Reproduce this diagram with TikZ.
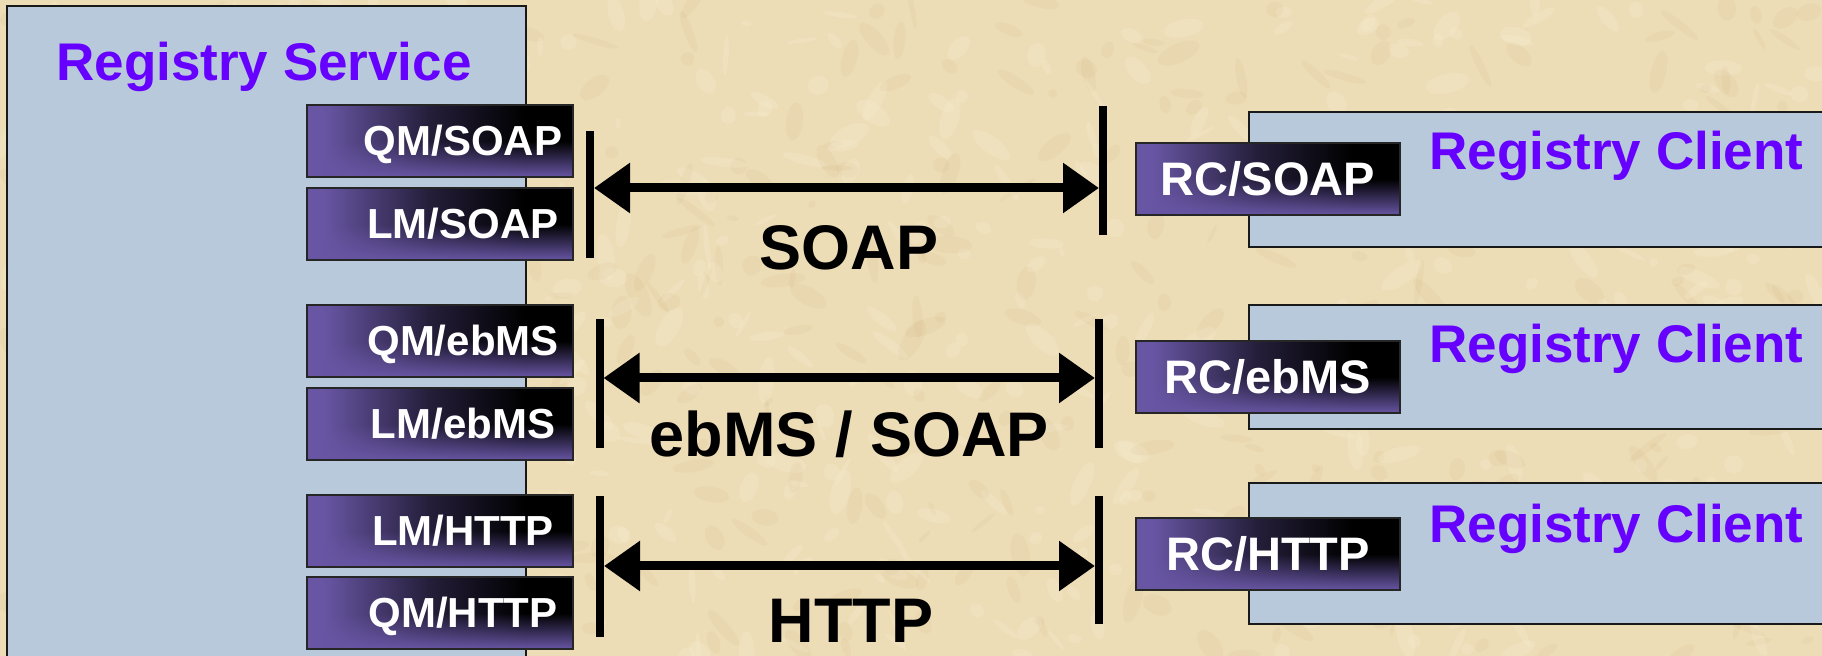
\documentclass[tikz,border=0pt]{standalone}
\usepackage{fontspec}
\setmainfont{Liberation Sans}
\usetikzlibrary{arrows.meta,fadings,calc}

\definecolor{paper}{RGB}{237,221,182}
\definecolor{paperdark}{RGB}{200,170,122}
\definecolor{paperlight}{RGB}{250,241,216}
\definecolor{panelblue}{RGB}{185,201,220}
\definecolor{titlepurple}{RGB}{102,0,255}
\definecolor{ifpurple}{RGB}{104,86,164}

% purple-to-black gradient of the module boxes
\pgfdeclarehorizontalshading{ifshade}{100bp}{%
  color(0bp)=(ifpurple); color(28bp)=(ifpurple);
  color(48bp)=(ifpurple!35!black); color(66bp)=(black); color(100bp)=(black)}
\tikzfading[name=fadeup, top color=transparent!100, bottom color=transparent!0]

\newcommand{\ifacefont}{\fontsize{21}{24}\selectfont\bfseries}
\newcommand{\rcfont}{\fontsize{23.5}{27}\selectfont\bfseries}
\newcommand{\headfont}{\fontsize{26.5}{30}\selectfont\bfseries}
\newcommand{\protofont}{\fontsize{31.5}{36}\selectfont\bfseries}

\tikzset{
  panel/.style={draw=black!90, line width=1pt, fill=panelblue, anchor=north west,
    inner sep=0pt, outer sep=0pt},
  iface/.style={draw=black!85, line width=1pt, anchor=north west, inner sep=0pt,
    outer sep=0pt, minimum height=36pt, text=white,
    path picture={
      \shade[shading=ifshade] (path picture bounding box.south west)
        rectangle (path picture bounding box.north east);
      \fill[ifpurple, path fading=fadeup] (path picture bounding box.south west)
        rectangle ($(path picture bounding box.south east)!0.5!(path picture bounding box.north east)$);
    }},
  leftif/.style={iface, minimum width=133pt, font=\ifacefont, text height=15pt, text depth=0pt},
  rightif/.style={iface, minimum width=132pt, font=\rcfont, text height=16.8pt, text depth=0pt},
  heading/.style={text=titlepurple, font=\headfont, inner sep=0pt},
  bar/.style={fill=black, draw=none, minimum width=4pt, inner sep=0pt, outer sep=0pt},
  link/.style={line width=4.5pt,
    {Triangle[length=18pt,width=24pt]}-{Triangle[length=18pt,width=24pt]}},
  proto/.style={font=\protofont, anchor=base, inner sep=0pt}
}

\begin{document}
\begin{tikzpicture}[x=0.5pt,y=0.5pt]
\clip (0,0) rectangle (1822,-656);
\fill[paper] (0,0) rectangle (1822,-656);

% mottled parchment backdrop
\pgfmathsetseed{4711}
\foreach \i in {1,...,900}{
  \pgfmathsetmacro{\bx}{rnd*1822}
  \pgfmathsetmacro{\by}{-rnd*656}
  \pgfmathsetmacro{\rx}{2+rnd*10}
  \pgfmathsetmacro{\ry}{1+rnd*4}
  \pgfmathsetmacro{\ang}{rnd*180}
  \pgfmathsetmacro{\pick}{rnd}
  \ifdim\pick pt<0.5pt
    \fill[paperdark, opacity=0.10, rotate around={\ang:(\bx,\by)}]
      (\bx,\by) ellipse [x radius=\rx pt, y radius=\ry pt];
  \else
    \fill[paperlight, opacity=0.22, rotate around={\ang:(\bx,\by)}]
      (\bx,\by) ellipse [x radius=\rx pt, y radius=\ry pt];
  \fi
}

% registry service
\node[panel, minimum width=259.5pt, minimum height=350pt] (svc) at (7,-6) {};
\node[heading, anchor=base] (svct) at (264,-81) {Registry Service};

\node[leftif] (qmsoap) at (307,-105) {\hspace*{23pt}QM/SOAP};
\node[leftif] (lmsoap) at (307,-188) {\hspace*{23pt}LM/SOAP};
\node[leftif] (qmebms) at (307,-305) {\hspace*{23pt}QM/ebMS};
\node[leftif] (lmebms) at (307,-388) {\hspace*{23pt}LM/ebMS};
\node[leftif] (lmhttp) at (307,-495) {\hspace*{23pt}LM/HTTP};
\node[leftif] (qmhttp) at (307,-577) {\hspace*{23pt}QM/HTTP};

% registry clients
\node[panel, minimum width=300pt, minimum height=67.5pt] (cl1) at (1249,-112) {};
\node[panel, minimum width=300pt, minimum height=62pt] (cl2) at (1249,-305) {};
\node[panel, minimum width=300pt, minimum height=70.5pt] (cl3) at (1249,-483) {};
\node[heading, anchor=base west] (cl1t) at (1429,-170) {Registry Client};
\node[heading, anchor=base west] (cl2t) at (1429,-363) {Registry Client};
\node[heading, anchor=base west] (cl3t) at (1429,-543) {Registry Client};

\node[rightif] (rcsoap) at (1136,-143) {RC/SOAP};
\node[rightif] (rcebms) at (1136,-341) {RC/ebMS};
\node[rightif] (rchttp) at (1136,-518) {RC/HTTP};

% protocol end bars
\node[bar, minimum height=63.5pt] (soapl) at (590,-194.5) {};
\node[bar, minimum height=64.5pt] (soapr) at (1103,-170.5) {};
\node[bar, minimum height=64.5pt] (ebmsl) at (599.5,-383.5) {};
\node[bar, minimum height=64.5pt] (ebmsr) at (1099,-383.5) {};
\node[bar, minimum height=70.5pt] (httpl) at (600,-566.5) {};
\node[bar, minimum height=64pt] (httpr) at (1099,-560) {};

% protocol links
\coordinate (ysoap) at (0,-188);
\coordinate (yebms) at (0,-378);
\coordinate (yhttp) at (0,-566);
\draw[link] (soapl.east |- ysoap) -- (soapr.west |- ysoap);
\draw[link] (ebmsl.east |- yebms) -- (ebmsr.west |- yebms);
\draw[link] (httpl.east |- yhttp) -- (httpr.west |- yhttp);

\node[proto] (psoap) at (849,-270) {SOAP};
\node[proto] (pebms) at (849.5,-457) {ebMS / SOAP};
\node[proto] (phttp) at (851,-643) {HTTP};
\end{tikzpicture}
\end{document}
